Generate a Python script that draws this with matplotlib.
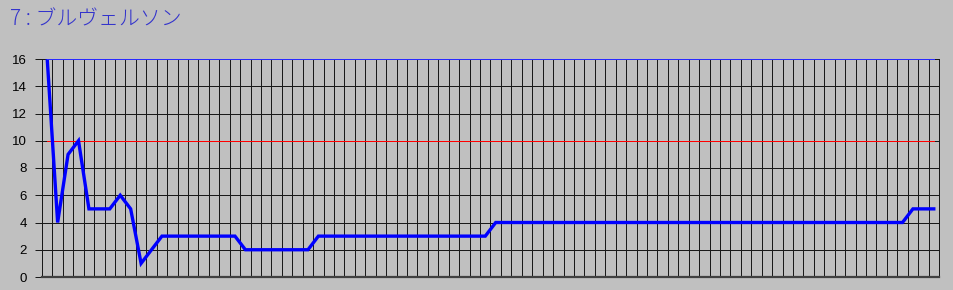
import numpy as np
import matplotlib
matplotlib.use('Agg')
import matplotlib.pyplot as plt

# values (one per category)
values = [16, 4, 9, 10, 5, 5, 5, 6, 5, 1, 2, 3,
          3, 3, 3, 3, 3, 3, 3,
          2, 2, 2, 2, 2, 2, 2,
          3, 3, 3, 3, 3, 3, 3, 3, 3, 3, 3, 3, 3, 3, 3, 3, 3,
          4, 4, 4, 4, 4, 4, 4, 4, 4, 4, 4, 4, 4, 4, 4, 4, 4, 4, 4, 4,
          4, 4, 4, 4, 4, 4, 4, 4, 4, 4, 4, 4, 4, 4, 4, 4, 4, 4, 4, 4,
          5, 5, 5]
limit_line = 10
top_line = 16
y_ticks = [0, 2, 4, 6, 8, 10, 12, 14, 16]
title = '7 : ブルヴェルソン'

bg = '#c0c0c0'
px = 0.72  # one pixel in points at dpi 100
n = len(values)
x = np.arange(n) + 0.5
ends = [x[0], x[-1]]

fig = plt.figure(figsize=(9.54, 2.90), dpi=100, facecolor=bg)
ax = fig.add_axes([42 / 954, 13 / 290, 897 / 954, 218 / 290])
ax.set_facecolor(bg)

# grid: a vertical line per category, horizontal per tick
for i in range(1, n):
    ax.axvline(i, color='#1a1a1a', lw=px, zorder=1, antialiased=False)
for t in y_ticks[1:-1]:
    ax.axhline(t, color='#1a1a1a', lw=px, zorder=1, antialiased=False)

ax.plot(ends, [top_line] * 2, color='#2a2aff', lw=px, zorder=5, clip_on=False,
        snap=True)
ax.plot(ends, [limit_line] * 2, color='#ff0000', lw=px, zorder=3, snap=True)
ax.plot(x, values, color='#0000ff', lw=2.4, zorder=4, solid_joinstyle='miter')

ax.set_xlim(0, n)
ax.set_ylim(0, 16)
ax.set_xticks([])
ax.set_yticks(y_ticks)
ax.set_yticklabels([str(t) for t in y_ticks], fontsize=9.5, family='Liberation Sans')
ax.tick_params(axis='y', length=5, width=px, color='#1a1a1a', pad=6)

for side in ['left', 'right', 'top']:
    ax.spines[side].set_color('#1a1a1a')
    ax.spines[side].set_linewidth(px)
ax.spines['bottom'].set_color('#404040')
ax.spines['bottom'].set_linewidth(1.6)

fig.text(10 / 954, 1 - 19 / 290, title, color='#3333cc', fontsize=15,
         family=['Noto Sans CJK JP', 'DejaVu Sans'], weight='light', va='center')

fig.savefig('out.png', dpi=100, facecolor=bg)
